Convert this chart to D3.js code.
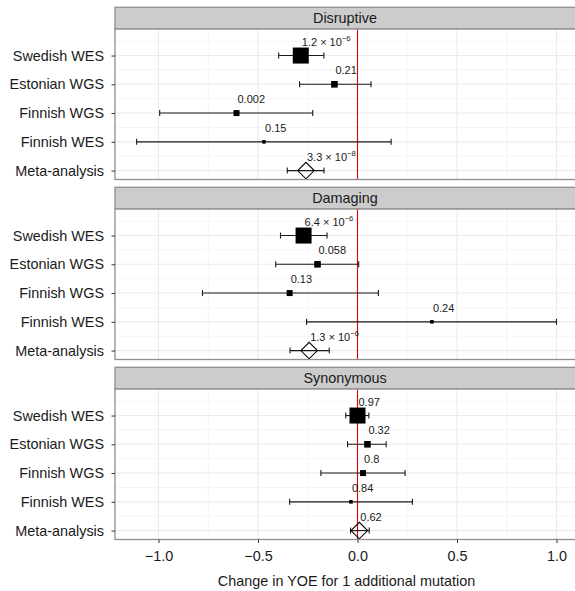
<!DOCTYPE html>
<html>
<head>
<meta charset="utf-8">
<script src="https://cdn.jsdelivr.net/npm/d3@7"></script>
<style>
  body { margin: 0; background: #fff; }
  svg { font-family: "Liberation Sans", Arial, Helvetica, sans-serif; }
</style>
</head>
<body>
<svg id="chart" width="575" height="591"></svg>
<script>
// categories / studies
const categories = ["Disruptive", "Damaging", "Synonymous"];
const studies = ["Swedish WES", "Estonian WGS", "Finnish WGS", "Finnish WES", "Meta-analysis"];

// relative study weight (square size), meta-analysis drawn as diamond
const studyWeight = [1, 0.17, 0.14, 0.05];

// estimates and 95% CI per category (same order as studies)
const disruptiveEst = [-0.285, -0.116, -0.608, -0.47, -0.259];
const disruptiveLo  = [-0.396, -0.291, -0.994, -1.11, -0.353];
const disruptiveHi  = [-0.169,  0.068, -0.225,  0.169, -0.168];
const disruptiveP   = ["1.2e-6", "0.21", "0.002", "0.15", "3.3e-8"];

const damagingEst = [-0.271, -0.201, -0.341, 0.374, -0.243];
const damagingLo  = [-0.387, -0.411, -0.779, -0.256, -0.339];
const damagingHi  = [-0.153,  0.006,  0.105,  1.0,   -0.142];
const damagingP   = ["6.4e-6", "0.058", "0.13", "0.24", "1.3e-6"];

const synonymousEst = [0.0,   0.05,  0.028, -0.033, 0.009];
const synonymousLo  = [-0.059, -0.05, -0.184, -0.341, -0.035];
const synonymousHi  = [0.057, 0.144, 0.239,  0.276, 0.059];
const synonymousP   = ["0.97", "0.32", "0.8", "0.84", "0.62"];

const xTicks = [-1.0, -0.5, 0.0, 0.5, 1.0];
const xMinor = [-0.75, -0.25, 0.25, 0.75];
const xTitle = "Change in YOE for 1 additional mutation";

const est = [disruptiveEst, damagingEst, synonymousEst];
const lo  = [disruptiveLo, damagingLo, synonymousLo];
const hi  = [disruptiveHi, damagingHi, synonymousHi];
const pv  = [disruptiveP, damagingP, synonymousP];

// layout
const left = 115, right = 576;
const facetTop = 7.3, facetStep = 180, stripH = 21.5, panelH = 150.7;
const fontSize = 14.4;

const svg = d3.select("#chart");

const x = d3.scaleLinear().domain([-1.2186, (right - 357.5) / 199]).range([left, right]);
// rows: Swedish at position 5 ... Meta-analysis at 1
const y = d3.scaleLinear().domain([5.93, 0.69]).range([0, panelH]);
const rowPos = d => 5 - studies.indexOf(d);
const size = d3.scaleSqrt().domain([0, 1]).range([0, 16]);

categories.forEach((cat, ci) => {
    const top = facetTop + ci * facetStep;
    const pTop = top + stripH;
    const g = svg.append("g").attr("transform", "translate(0," + pTop + ")");

    // grid
    g.selectAll(".xminor").data(xMinor).enter().append("line")
        .attr("x1", d => x(d)).attr("x2", d => x(d))
        .attr("y1", 0).attr("y2", panelH)
        .attr("stroke", "#f5f5f5").attr("stroke-width", 1);
    g.selectAll(".yminor").data([1.5, 2.5, 3.5, 4.5, 5.5]).enter().append("line")
        .attr("x1", left).attr("x2", right)
        .attr("y1", d => y(d)).attr("y2", d => y(d))
        .attr("stroke", "#f5f5f5").attr("stroke-width", 1);
    g.selectAll(".xmajor").data(xTicks).enter().append("line")
        .attr("x1", d => x(d)).attr("x2", d => x(d))
        .attr("y1", 0).attr("y2", panelH)
        .attr("stroke", "#ebebeb").attr("stroke-width", 1.1);
    g.selectAll(".ymajor").data(studies).enter().append("line")
        .attr("x1", left).attr("x2", right)
        .attr("y1", d => y(rowPos(d))).attr("y2", d => y(rowPos(d)))
        .attr("stroke", "#ebebeb").attr("stroke-width", 1.1);

    // reference line at 0
    g.append("line")
        .attr("x1", x(0)).attr("x2", x(0))
        .attr("y1", 0).attr("y2", panelH)
        .attr("stroke", "#e00000").attr("stroke-width", 1.1);

    const rows = studies.map((s, i) => ({
        study: s, i: i, est: est[ci][i], lo: lo[ci][i], hi: hi[ci][i], p: pv[ci][i]
    }));

    // error bars
    rows.forEach(d => {
        const yy = y(rowPos(d.study));
        g.append("line").attr("x1", x(d.lo)).attr("x2", x(d.hi))
            .attr("y1", yy).attr("y2", yy)
            .attr("stroke", "#1a1a1a").attr("stroke-width", 1.1);
        [d.lo, d.hi].forEach(v => {
            g.append("line").attr("x1", x(v)).attr("x2", x(v))
                .attr("y1", yy - 3).attr("y2", yy + 3)
                .attr("stroke", "#1a1a1a").attr("stroke-width", 1.1);
        });
    });

    // squares
    g.selectAll(".sq").data(rows.filter(d => d.i < 4)).enter().append("rect")
        .attr("x", d => x(d.est) - size(studyWeight[d.i]) / 2)
        .attr("y", d => y(rowPos(d.study)) - size(studyWeight[d.i]) / 2)
        .attr("width", d => size(studyWeight[d.i]))
        .attr("height", d => size(studyWeight[d.i]))
        .attr("fill", "#000");

    // diamond for meta-analysis
    rows.filter(d => d.i === 4).forEach(d => {
        const cx = x(d.est), cy = y(rowPos(d.study));
        g.append("path")
            .attr("d", "M" + (cx - 8.3) + "," + cy + "L" + cx + "," + (cy - 8.2) +
                       "L" + (cx + 8.3) + "," + cy + "L" + cx + "," + (cy + 8.2) + "Z")
            .attr("fill", "none").attr("stroke", "#000").attr("stroke-width", 1.1);
    });

    // p-value labels
    rows.forEach(d => {
        const t = g.append("text")
            .attr("x", x(d.est) + 1)
            .attr("y", y(rowPos(d.study)) - 10)
            .attr("font-size", 11).attr("fill", "#1a1a1a");
        const parts = d.p.split("e");
        if (parts.length === 2) {
            t.append("tspan").text(parts[0] + " \u00d7 10");
            t.append("tspan").attr("font-size", 7.6).attr("dy", -4.5)
                .text(parts[1].replace("-", "\u2212"));
        } else {
            t.text(d.p);
        }
    });

    // panel border
    g.append("rect").attr("x", left).attr("y", 0)
        .attr("width", right - left).attr("height", panelH)
        .attr("fill", "none").attr("stroke", "#8f8f8f").attr("stroke-width", 1.3);

    // strip
    svg.append("rect").attr("x", left).attr("y", top)
        .attr("width", right - left).attr("height", stripH)
        .attr("fill", "#cccccc").attr("stroke", "#8f8f8f").attr("stroke-width", 1.3);
    svg.append("text")
        .attr("x", (left + 575) / 2).attr("y", top + stripH / 2)
        .attr("dy", "0.35em").attr("text-anchor", "middle")
        .attr("font-size", fontSize).attr("fill", "#1a1a1a")
        .text(cat);

    // y axis
    const yBand = d3.scaleOrdinal().domain(studies).range(studies.map(s => y(rowPos(s))));
    const yAxis = g.append("g").attr("transform", "translate(" + left + ",0)")
        .call(d3.axisLeft(yBand).tickSize(3.5).tickPadding(7.5));
    yAxis.select(".domain").remove();
    yAxis.selectAll("line").attr("stroke", "#333");
    yAxis.selectAll("text").attr("font-size", fontSize).attr("fill", "#1a1a1a")
        .attr("font-family", null);

    // x axis on bottom panel
    if (ci === categories.length - 1) {
        const xAxis = g.append("g").attr("transform", "translate(0," + panelH + ")")
            .call(d3.axisBottom(x).tickValues(xTicks).tickFormat(d3.format(".1f"))
                .tickSize(3.5).tickPadding(7.5));
        xAxis.select(".domain").remove();
        xAxis.selectAll("line").attr("stroke", "#333");
        xAxis.selectAll("text").attr("font-size", fontSize).attr("fill", "#1a1a1a")
            .attr("font-family", null);
    }
});

svg.append("text")
    .attr("x", 346.5).attr("y", 586)
    .attr("text-anchor", "middle")
    .attr("font-size", fontSize).attr("fill", "#1a1a1a")
    .text(xTitle);
</script>
</body>
</html>
